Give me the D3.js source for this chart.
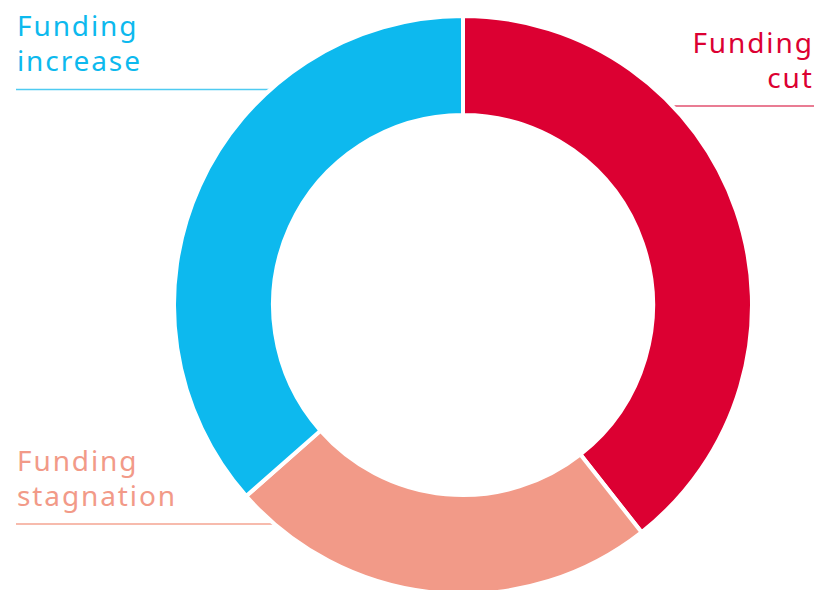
<!DOCTYPE html>
<html>
<head>
<meta charset="utf-8">
<script src="https://cdn.jsdelivr.net/npm/d3@7"></script>
<style>
  body { margin: 0; background: #fff; }
  text { font-family: "Noto Sans", sans-serif; }
</style>
</head>
<body>
<script>
// data, clockwise from 12 o'clock
const categories = ["Funding cut", "Funding stagnation", "Funding increase"];
const values = [39.4, 24.1, 36.5];
const colors = ["#dc0032", "#f29a88", "#0db9ee"];
const lineColors = ["#e2506f", "#f5a592", "#4fcbf1"];

const width = 814, height = 590;
const cx = 463, cy = 305,
    outerR = 289, innerR = 190;

const svg = d3.select("body").append("svg")
    .attr("width", width)
    .attr("height", height);

// label blocks: lines of text, anchor, x, baselines, rule y and side
const labels = [
    { lines: ["Funding", "cut"], anchor: "end", x: 812, y: [53, 88], ruleY: 106, side: "right" },
    { lines: ["Funding", "stagnation"], anchor: "start", x: 17, y: [471, 506], ruleY: 524, side: "left" },
    { lines: ["Funding", "increase"], anchor: "start", x: 17, y: [36, 71], ruleY: 89.5, side: "left" }
];

// rules run from the page edge to the ring's outer edge
labels.forEach((l, i) => {
    const dy = l.ruleY - cy;
    const dx = Math.sqrt(outerR * outerR - dy * dy);
    const x1 = l.side === "left" ? 16 : width;
    const x2 = l.side === "left" ? cx - dx + 2 : cx + dx - 2;
    svg.append("line")
        .attr("x1", x1).attr("x2", x2)
        .attr("y1", l.ruleY).attr("y2", l.ruleY)
        .attr("stroke", lineColors[i])
        .attr("stroke-width", 1.5);
});

const pie = d3.pie().sort(null).value(d => d);
const arc = d3.arc().innerRadius(innerR).outerRadius(outerR);

svg.append("g")
    .attr("transform", "translate(" + cx + "," + cy + ")")
    .selectAll("path")
    .data(pie(values))
    .enter().append("path")
    .attr("d", arc)
    .attr("fill", (d, i) => colors[i])
    .attr("stroke", "#fff")
    .attr("stroke-width", 4);

labels.forEach((l, i) => {
    l.lines.forEach((s, j) => {
        svg.append("text")
            .attr("x", l.anchor === "end" ? l.x + 1.8 : l.x)
            .attr("y", l.y[j])
            .attr("text-anchor", l.anchor)
            .attr("fill", colors[i])
            .style("font-size", "28px")
            .style("letter-spacing", "1.9px")
            .text(s);
    });
});
</script>
</body>
</html>
